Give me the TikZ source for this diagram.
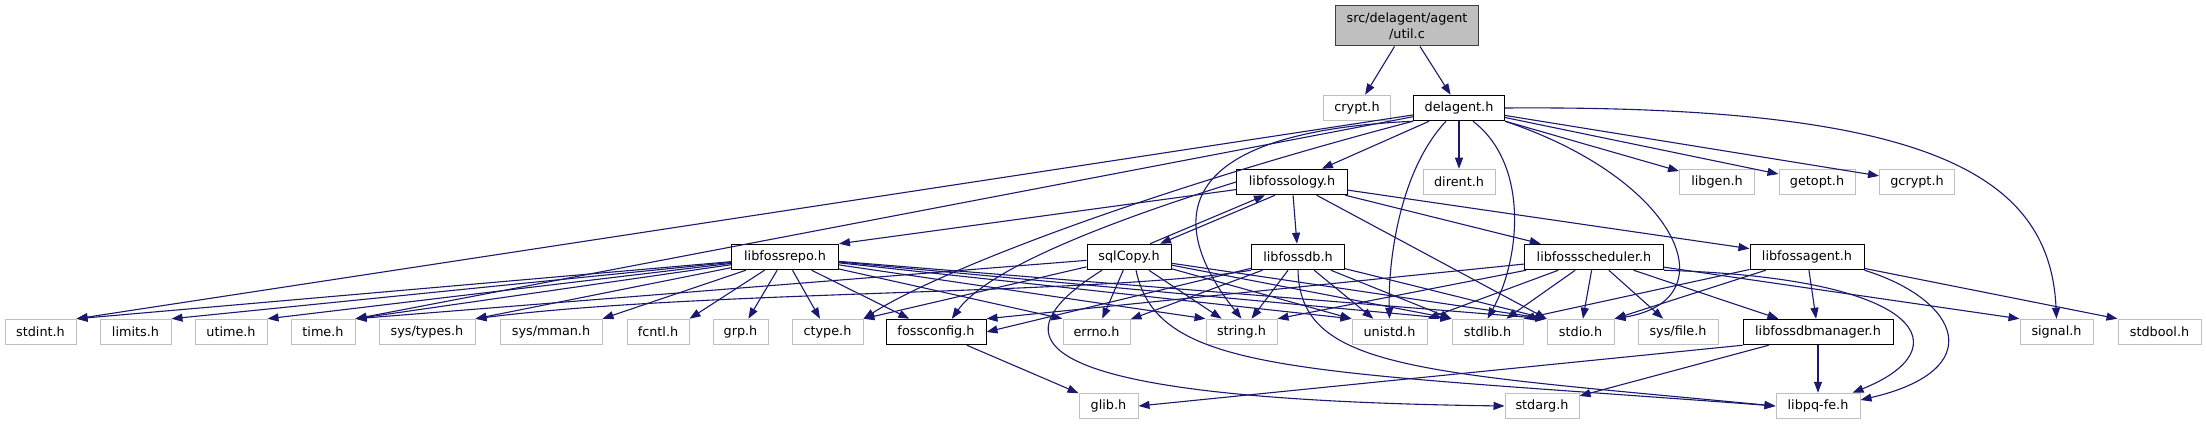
\documentclass[tikz,border=0pt]{standalone}
\usepackage{fontspec}
\setmainfont{DejaVu Sans}
\usetikzlibrary{arrows.meta, calc}
\definecolor{edgeblue}{RGB}{25,25,112}
\definecolor{hdrgray}{RGB}{191,191,191}
\definecolor{rootline}{RGB}{64,64,64}
\tikzset{
  hdr/.style={draw=hdrgray, line width=1pt, inner sep=0pt, minimum height=25.5pt,
    font=\fontsize{12.8}{15.5}\selectfont},
  doc/.style={hdr, draw=black},
  incl/.style={edgeblue, line width=1.1pt, -{Triangle[length=11pt,width=8pt]}}
}

\begin{document}
\begin{tikzpicture}[x=1pt, y=-1pt]
    \path[fill=white] (0,0) rectangle (2206,425);
    \useasboundingbox (0,0) rectangle (2206,425);
    % the file itself
    \node[doc, fill=hdrgray, draw=rootline, minimum width=143pt, minimum height=40pt, align=center]
        (util) at (1407,26) {src/delagent/agent\\/util.c};
    % system headers
    \foreach \nm/\x/\y/\w/\lbl in {
        crypt/1357/108/67/crypt.h, dirent/1459/182/72/dirent.h,
        libgen/1717/182/75/libgen.h, getopt/1817/182/76/getopt.h, gcrypt/1917/182/75/gcrypt.h,
        stdint/40.5/332/71/stdint.h, limits/135.5/332/71/limits.h, utime/231/332/72/utime.h,
        time/323/332/64/time.h, systypes/427/332/96/{sys/types.h}, sysmman/551/332/102/{sys/mman.h},
        fcntl/658/332/62/fcntl.h, grp/740.5/332/55/grp.h, ctype/827.5/332/71/ctype.h,
        errno/1096.5/332/67/errno.h, string/1241.5/332/71/string.h, unistd/1389.5/332/75/unistd.h,
        stdlib/1487.5/332/71/stdlib.h, stdio/1580.5/332/67/stdio.h, sysfile/1678/332/80/{sys/file.h},
        signal/2056.5/332/73/signal.h, stdbool/2159.5/332/83/stdbool.h,
        glib/1108.5/406/59/glib.h, stdarg/1542/406/74/stdarg.h, libpqfe/1818/406/84/libpq-fe.h}
    {
        \node[hdr, minimum width=\w] (\nm) at (\x,\y) {\lbl};
    }
    % project headers
    \foreach \nm/\x/\y/\w/\lbl in {
        delagent/1459/108/91/delagent.h, libfossology/1292/182/111/libfossology.h,
        libfossrepo/785/257/107/libfossrepo.h, sqlCopy/1129/257/84/sqlCopy.h,
        libfossdb/1298/257/93/libfossdb.h, libfossscheduler/1594/257/139/libfossscheduler.h,
        libfossagent/1807/257/114/libfossagent.h, fossconfig/936/332/100/fossconfig.h,
        libfossdbmanager/1818/332/150/libfossdbmanager.h}
    {
        \node[doc, minimum width=\w] (\nm) at (\x,\y) {\lbl};
    }
    % straight includes
    \foreach \a/\b in {
        util/crypt, util/delagent,
        delagent/libfossology, delagent/dirent, delagent/libgen, delagent/getopt, delagent/gcrypt,
        delagent/stdint.north east, delagent/time.north east,
        libfossology/libfossrepo.north east, libfossology/libfossdb, libfossology/stdio.north west,
        libfossology/libfossscheduler, libfossology/libfossagent,
        libfossrepo/stdint.north east, libfossrepo/limits.north east, libfossrepo/utime.north east,
        libfossrepo/time.north east, libfossrepo/systypes.north east, libfossrepo/sysmman.north east,
        libfossrepo/fcntl.north east, libfossrepo/grp, libfossrepo/ctype, libfossrepo/fossconfig,
        libfossrepo/errno.north west, libfossrepo/string.north west, libfossrepo/unistd.north west,
        libfossrepo/stdlib.north west, libfossrepo/stdio.north west,
        sqlCopy/time.north east, sqlCopy/ctype.north east, sqlCopy/errno, sqlCopy/string,
        sqlCopy/unistd.north west, sqlCopy/stdlib.north west, sqlCopy/stdio.north west,
        libfossdb/fossconfig.east, libfossdb/errno, libfossdb/string, libfossdb/unistd,
        libfossdb/stdlib.north west, libfossdb/stdio.north west,
        libfossscheduler/fossconfig.north east, libfossscheduler/string.north east,
        libfossscheduler/unistd.north east, libfossscheduler/stdlib, libfossscheduler/stdio,
        libfossscheduler/sysfile, libfossscheduler/libfossdbmanager, libfossscheduler/signal.north west,
        libfossagent/stdlib.north east, libfossagent/stdio.north east,
        libfossagent/libfossdbmanager, libfossagent/stdbool.north west,
        libfossdbmanager/libpqfe, libfossdbmanager/stdarg, libfossdbmanager.south west/glib.east,
        fossconfig/glib}
    {
        \draw[incl] (\a) -- (\b);
    }
    % curved includes
    \draw[incl] (delagent.south west) .. controls (1150,190) and (940,270) .. (ctype.north east);
    \draw[incl] (delagent.south west) .. controls (1120,135) and (1195,260) .. (string.north);
    \draw[incl] ($(delagent.south)+(-13,0)$) .. controls (1400,170) and (1388,260) .. (unistd.north);
    \draw[incl] ($(delagent.south)+(14,0)$) .. controls (1530,165) and (1520,260) .. (stdlib.north);
    \draw[incl] (delagent.south east) .. controls (1680,180) and (1730,300) .. (stdio.north east);
    \draw[incl] (delagent.east) .. controls (1920,105) and (2050,170) .. (signal.north);
    \draw[incl] ($(libfossology.south)+(-17,0)$) -- ($(sqlCopy.north)+(31,0)$);
    \draw[incl] ($(sqlCopy.north)+(21,0)$) -- ($(libfossology.south)+(-27,0)$);
    \draw[incl] (libfossology.west) .. controls (1130,215) and (990,265) .. (fossconfig.40);
    \draw[incl] ($(sqlCopy.south)+(-27,0)$) .. controls (975,350) and (1060,400) .. (stdarg.west);
    \draw[incl] ($(sqlCopy.south)+(7,0)$) .. controls (1158,375) and (1300,370) .. (libpqfe.west);
    \draw[incl] (libfossdb.south west) .. controls (1100,295) and (700,290) .. (systypes.north east);
    \draw[incl] (libfossdb.south) .. controls (1300,370) and (1420,372) .. (libpqfe.west);
    \draw[incl] (libfossscheduler.south east) .. controls (1930,278) and (1960,350) .. ($(libpqfe.north east)+(-8,0)$);
    \draw[incl] (libfossagent.south east) .. controls (1960,300) and (1990,370) .. ($(libpqfe.east)+(0,-6)$);
\end{tikzpicture}
\end{document}
